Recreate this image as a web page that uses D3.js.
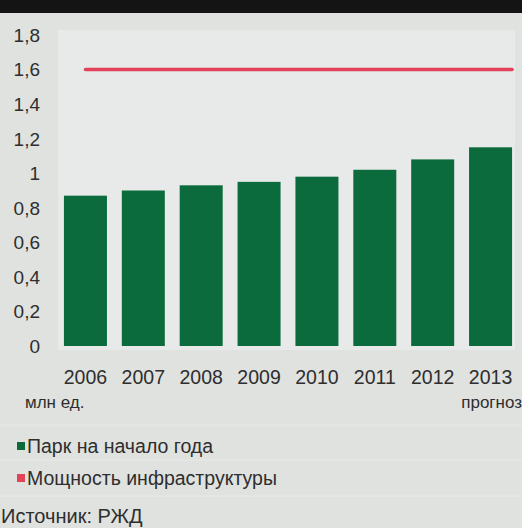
<!DOCTYPE html>
<html><head><meta charset="utf-8">
<script src="https://cdn.jsdelivr.net/npm/d3@7"></script>
<style>
html,body{margin:0;padding:0;background:#e0e2e0;}
svg{display:block;}
text{font-family:"Liberation Sans",Arial,sans-serif;fill:#2e2e2e;}
</style></head><body>
<script>
const years = ["2006","2007","2008","2009","2010","2011","2012","2013"];
const fleet = [0.87, 0.90, 0.93, 0.95, 0.98, 1.02, 1.08, 1.15];
const capacity = 1.6;
const yTicks = [0, 0.2, 0.4, 0.6, 0.8, 1, 1.2, 1.4, 1.6, 1.8];
const unitLabel = "млн ед.";
const forecastLabel = "прогноз";
const legendItems = [
  {label: "Парк на начало года", color: "#0b6b3d"},
  {label: "Мощность инфраструктуры", color: "#e2435a"}
];
const sourceLabel = "Источник: РЖД";

const W = 522, H = 528;
const svg = d3.select("body").append("svg").attr("width", W).attr("height", H);

svg.append("rect").attr("width", W).attr("height", H).attr("fill", "#e0e2e0");
svg.append("rect").attr("x", 0).attr("y", 0).attr("width", W).attr("height", 13).attr("fill", "#141414");

const x = d3.scaleBand().domain(years).range([56.5, 519.5]).paddingInner(0.257).paddingOuter(0.1285);
const y = d3.scaleLinear().domain([0, 1.8]).range([346, 35]);

// plot panel
svg.append("rect").attr("x", 58).attr("y", 30).attr("width", 457).attr("height", 320).attr("fill", "#e8eae9");

// y axis labels
const fmt = v => d3.format("~g")(v).replace(".", ",");
svg.append("g").selectAll("text").data(yTicks).join("text")
  .attr("x", 40).attr("y", d => y(d)).attr("dy", "0.36em")
  .attr("text-anchor", "end").style("font-size", "19px")
  .text(fmt);

// bars
svg.append("g").selectAll("rect").data(years).join("rect")
  .attr("x", d => x(d)).attr("width", x.bandwidth())
  .attr("y", (d, i) => y(fleet[i])).attr("height", (d, i) => y(0) - y(fleet[i]))
  .attr("fill", legendItems[0].color);

// capacity line
svg.append("line")
  .attr("x1", x(years[0]) + x.bandwidth() * 0.5).attr("x2", x(years[years.length - 1]) + x.bandwidth())
  .attr("y1", y(capacity)).attr("y2", y(capacity))
  .attr("stroke", legendItems[1].color).attr("stroke-width", 3.5).attr("stroke-linecap", "round");

// x labels
svg.append("g").selectAll("text").data(years).join("text")
  .attr("x", d => x(d) + x.bandwidth() / 2).attr("y", 384)
  .attr("text-anchor", "middle").style("font-size", "19.5px")
  .text(d => d);

svg.append("text").attr("x", 25).attr("y", 408).style("font-size", "17px").text(unitLabel);
svg.append("text").attr("x", 522).attr("y", 408).attr("text-anchor", "end").style("font-size", "17px").text(forecastLabel);

// separators
[425, 460, 496].forEach(yy => svg.append("line").attr("x1", 0).attr("x2", W).attr("y1", yy).attr("y2", yy).attr("stroke", "#e9ebe9").attr("stroke-width", 1));

// legend
const lg = svg.append("g").selectAll("g").data(legendItems).join("g")
  .attr("transform", (d, i) => `translate(0,${446 + i * 32})`);
lg.append("rect").attr("x", 17).attr("y", -4).attr("width", 8).attr("height", 8).attr("fill", d => d.color);
lg.append("text").attr("x", 27).attr("y", 0).attr("dy", "0.36em").style("font-size", "19.5px").text(d => d.label);

svg.append("text").attr("x", 1).attr("y", 523).style("font-size", "20px").text(sourceLabel);
</script>
</body></html>
